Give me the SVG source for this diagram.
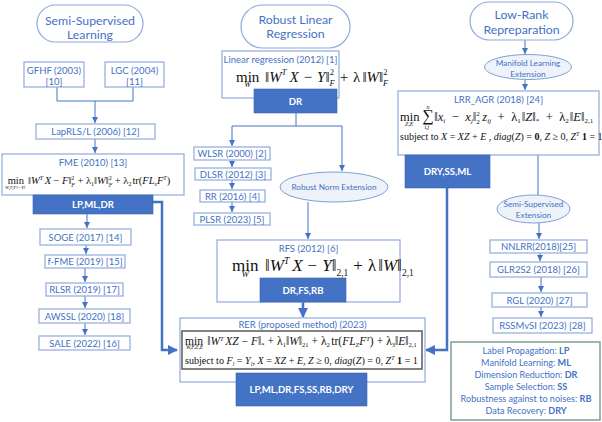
<svg xmlns="http://www.w3.org/2000/svg" width="602" height="422" viewBox="0 0 602 422">
<defs>
<style>
.box{fill:#fff;stroke:#8FAADC;stroke-width:1.2}
.st{fill:#fff;stroke:#8FAADC;stroke-width:1.2}
.el{fill:#EEF3FA;stroke:#7F9FD6;stroke-width:1}
.blue{fill:#4472C4;stroke:#3A64B0;stroke-width:0.6}
.t{font-family:Lato,"Liberation Sans",sans-serif;fill:#4472C4;font-size:9.5px;text-anchor:middle}
.tl{font-family:Lato,"Liberation Sans",sans-serif;fill:#4472C4;font-size:9.1px;text-anchor:middle}
.ts{font-family:Lato,"Liberation Sans",sans-serif;fill:#4472C4;font-size:12.3px;text-anchor:middle}
.te{font-family:Lato,"Liberation Sans",sans-serif;fill:#4472C4;font-size:8.2px;text-anchor:middle}
.bt{font-family:Lato,"Liberation Sans",sans-serif;fill:#fff;font-weight:bold;font-size:9.6px;text-anchor:middle}
.m{font-family:"Liberation Serif","Times New Roman",serif;fill:#111}
.i{font-style:italic}
.b{font-weight:bold}
.thin{stroke:#4472C4;stroke-width:1;fill:none}
.thick{stroke:#4472C4;stroke-width:2.5;fill:none}
</style>
<marker id="a" markerUnits="userSpaceOnUse" markerWidth="6" markerHeight="6" refX="6" refY="3" orient="auto"><path d="M0,0L6,3L0,6z" fill="#4472C4"/></marker>
<marker id="A" markerUnits="userSpaceOnUse" markerWidth="10" markerHeight="10" refX="9" refY="5" orient="auto"><path d="M0,0L10,5L0,10z" fill="#4472C4"/></marker>
</defs>
<rect width="602" height="422" fill="#fff"/>

<g id="connectors">
<path class="thin" d="M57,87V101H133V87M95,101V123" marker-end="url(#a)"/>
<path class="thin" d="M95,139V153" marker-end="url(#a)"/>
<path class="thin" d="M87,214V228" marker-end="url(#a)"/>
<path class="thin" d="M86,245V254" marker-end="url(#a)"/>
<path class="thin" d="M85,268V282" marker-end="url(#a)"/>
<path class="thin" d="M85,296V308" marker-end="url(#a)"/>
<path class="thin" d="M85,323V335" marker-end="url(#a)"/>
<path class="thick" d="M153,202H162V350H177" marker-end="url(#A)"/>
<path class="thin" d="M296,113V126M232,126H342"/>
<path class="thin" d="M232,126V146" marker-end="url(#a)"/>
<path class="thin" d="M342,126V171" marker-end="url(#a)"/>
<path class="thin" d="M232,160V167" marker-end="url(#a)"/>
<path class="thin" d="M232,180V189" marker-end="url(#a)"/>
<path class="thin" d="M232,202V212" marker-end="url(#a)"/>
<path class="thin" d="M308,202V239" marker-end="url(#a)"/>
<path class="thick" d="M303,302V317" marker-end="url(#A)"/>
<path class="thick" d="M447,188V350H426" marker-end="url(#A)"/>
<path class="thin" d="M525,40V54" marker-end="url(#a)"/>
<path class="thin" d="M525,80V90" marker-end="url(#a)"/>
<path class="thin" d="M538,155V195"/>
<path class="thin" d="M539,223V239" marker-end="url(#a)"/>
<path class="thin" d="M540,253V261" marker-end="url(#a)"/>
<path class="thin" d="M541,277V292" marker-end="url(#a)"/>
<path class="thin" d="M541,307V317" marker-end="url(#a)"/>
</g>

<g id="semi-supervised-learning">
<rect class="st" x="37" y="5" width="106" height="37" rx="18.5"/>
<text class="ts" x="90" y="24.5">Semi-Supervised</text>
<text class="ts" x="90" y="38.5">Learning</text>
</g>
<g id="gfhf">
<rect class="box" x="24" y="62" width="60" height="25"/>
<text class="t" x="54" y="73.5">GFHF (2003)</text>
<text class="t" x="54" y="84.5">[10]</text>
</g>
<g id="lgc">
<rect class="box" x="105" y="62" width="59" height="25"/>
<text class="t" x="134.5" y="73.5">LGC (2004)</text>
<text class="t" x="134.5" y="84.5">[11]</text>
</g>
<g id="laprls">
<rect class="box" x="36" y="124" width="119" height="15"/>
<text class="t" x="95.5" y="135">LapRLS/L (2006) [12]</text>
</g>
<g id="fme">
<rect class="box" x="2" y="154" width="182" height="41"/>
<text class="t" x="93" y="166">FME (2010) [13]</text>
<text class="m" x="5" y="184" font-size="10.5">min<tspan class="i" font-size="5" dx="-19" dy="5">W,F,F<tspan font-size="4">l</tspan>=Y<tspan font-size="4">l</tspan></tspan><tspan dx="3" dy="-5">‖</tspan><tspan class="i">W</tspan><tspan class="i" font-size="6" dy="-4">T</tspan><tspan class="i" dy="4" dx="1.5">X</tspan><tspan dx="2.5">−</tspan><tspan class="i" dx="2.5">F</tspan>‖<tspan font-size="6" dy="-4">2</tspan><tspan class="i" font-size="6" dx="-3" dy="7">F</tspan><tspan dx="2.5" dy="-3">+</tspan><tspan dx="2.5">λ</tspan><tspan font-size="6" dy="2">1</tspan><tspan dy="-2">‖</tspan><tspan class="i">W</tspan>‖<tspan font-size="6" dy="-4">2</tspan><tspan class="i" font-size="6" dx="-3" dy="7">F</tspan><tspan dx="2.5" dy="-3">+</tspan><tspan dx="2.5">λ</tspan><tspan font-size="6" dy="2">2</tspan><tspan dy="-2" dx="1">tr(</tspan><tspan class="i">FL</tspan><tspan class="i" font-size="6" dy="2">s</tspan><tspan class="i" dy="-2">F</tspan><tspan class="i" font-size="6" dy="-4">T</tspan><tspan dy="4">)</tspan></text>
</g>
<g id="lp-ml-dr">
<rect class="blue" x="33" y="195" width="120" height="19"/>
<text class="bt" x="93" y="208">LP,ML,DR</text>
</g>
<g id="soge">
<rect class="box" x="40" y="229" width="91" height="16"/>
<text class="t" x="85.5" y="240.5">SOGE (2017) [14]</text>
</g>
<g id="f-fme">
<rect class="box" x="45" y="255" width="80" height="13"/>
<text class="t" x="85" y="265">f-FME (2019) [15]</text>
</g>
<g id="rlsr">
<rect class="box" x="46" y="283" width="77" height="13"/>
<text class="t" x="84.5" y="293">RLSR (2019) [17]</text>
</g>
<g id="awssl">
<rect class="box" x="39" y="309" width="91" height="14"/>
<text class="t" x="84.5" y="319.5">AWSSL (2020) [18]</text>
</g>
<g id="sale">
<rect class="box" x="39" y="336" width="91" height="14"/>
<text class="t" x="84.5" y="346.5">SALE (2022) [16]</text>
</g>

<g id="robust-linear-regression">
<rect class="st" x="241" y="5" width="109" height="43" rx="21.5"/>
<text class="ts" x="295.5" y="23.5">Robust Linear</text>
<text class="ts" x="295.5" y="38">Regression</text>
</g>
<g id="linear-regression">
<rect class="box" x="222" y="51" width="117" height="47"/>
<text class="t" x="280.5" y="63">Linear regression (2012) [1]</text>
<text class="m" x="236" y="82" font-size="15">min<tspan class="i" font-size="8" dx="-15" dy="5">W</tspan><tspan dx="14" dy="-5">‖</tspan><tspan class="i">W</tspan><tspan class="i" font-size="8.5" dy="-7">T</tspan><tspan class="i" dx="3" dy="7">X</tspan><tspan dx="5">−</tspan><tspan class="i" dx="5">Y</tspan>‖<tspan font-size="8.5" dy="-7">2</tspan><tspan class="i" font-size="8.5" dx="-4.5" dy="11">F</tspan><tspan dx="5" dy="-4">+</tspan><tspan dx="5">λ</tspan><tspan dx="2">‖</tspan><tspan class="i">W</tspan>‖<tspan font-size="8.5" dy="-7">2</tspan><tspan class="i" font-size="8.5" dx="-4.5" dy="11">F</tspan></text>
</g>
<g id="dr">
<rect class="blue" x="254" y="89" width="83" height="24"/>
<text class="bt" x="295.5" y="104.5">DR</text>
</g>
<g id="wlsr">
<rect class="box" x="194" y="147" width="76" height="13"/>
<text class="t" x="232" y="157">WLSR (2000) [2]</text>
</g>
<g id="dlsr">
<rect class="box" x="195" y="168" width="76" height="12"/>
<text class="t" x="233" y="177.5">DLSR (2012) [3]</text>
</g>
<g id="rr">
<rect class="box" x="200" y="190" width="65" height="12"/>
<text class="t" x="232.5" y="199.5">RR (2016) [4]</text>
</g>
<g id="plsr">
<rect class="box" x="194" y="213" width="76" height="12"/>
<text class="t" x="232" y="222.5">PLSR (2023) [5]</text>
</g>
<g id="robust-norm-extension">
<ellipse class="el" cx="334" cy="187" rx="54" ry="15"/>
<text class="te" x="334" y="190" font-size="8.8">Robust Norm Extension</text>
</g>
<g id="rfs">
<rect class="box" x="217" y="240" width="183" height="62"/>
<text class="t" x="308.5" y="251.5">RFS (2012) [6]</text>
<text class="m" x="232" y="271" font-size="17">min<tspan class="i" font-size="9" dx="-17" dy="6">W</tspan><tspan dx="16" dy="-6">‖</tspan><tspan class="i">W</tspan><tspan class="i" font-size="9.5" dy="-7">T</tspan><tspan class="i" dy="7" dx="3">X</tspan><tspan dx="5">−</tspan><tspan class="i" dx="5">Y</tspan>‖<tspan font-size="9.5" dy="5">2,1</tspan><tspan dx="5" dy="-5">+</tspan><tspan dx="5">λ</tspan><tspan dx="2">‖</tspan><tspan class="i">W</tspan>‖<tspan font-size="9.5" dy="5">2,1</tspan></text>
</g>
<g id="dr-fs-rb">
<rect class="blue" x="260" y="278" width="86" height="24"/>
<text class="bt" x="303" y="293.5">DR,FS,RB</text>
</g>
<g id="rer">
<rect class="box" x="180" y="318" width="245" height="64"/>
<text class="t" x="302.5" y="328">RER (proposed method) (2023)</text>
<rect x="182" y="331" width="240" height="38" fill="#fff" stroke="#595959" stroke-width="1.5"/>
<text class="m" x="185" y="345" font-size="11.5">min<tspan class="i" font-size="5.5" dx="-17" dy="4">W,F,Z,E</tspan><tspan dx="4" dy="-4">‖</tspan><tspan class="i">W</tspan><tspan class="i" font-size="6.5" dy="-4">T</tspan><tspan class="i" dy="4" dx="1.5">XZ</tspan><tspan dx="3">−</tspan><tspan class="i" dx="3">F</tspan>‖<tspan font-size="6.5" dy="2">*</tspan><tspan dx="3" dy="-2">+</tspan><tspan dx="3">λ</tspan><tspan font-size="6.5" dy="2">1</tspan><tspan dy="-2">‖</tspan><tspan class="i">W</tspan>‖<tspan font-size="6.5" dy="2">21</tspan><tspan dx="3" dy="-2">+</tspan><tspan dx="3">λ</tspan><tspan font-size="6.5" dy="2">2</tspan><tspan dx="1.5" dy="-2">tr(</tspan><tspan class="i">FL</tspan><tspan class="i" font-size="6.5" dy="2">Z</tspan><tspan class="i" dy="-2">F</tspan><tspan class="i" font-size="6.5" dy="-4">T</tspan><tspan dy="4">)</tspan><tspan dx="3">+</tspan><tspan dx="3">λ</tspan><tspan font-size="6.5" dy="2">3</tspan><tspan dy="-2">‖</tspan><tspan class="i">E</tspan>‖<tspan font-size="6.5" dy="2">2,1</tspan></text>
<text class="m" x="185" y="364" font-size="10.1">subject to <tspan class="i">F</tspan><tspan class="i" font-size="6" dy="2">l</tspan><tspan dy="-2"> = </tspan><tspan class="i">Y</tspan><tspan class="i" font-size="6" dy="2">l</tspan><tspan dy="-2">, </tspan><tspan class="i">X</tspan> = <tspan class="i">XZ</tspan> + <tspan class="i">E</tspan>, <tspan class="i">Z</tspan> ≥ 0, <tspan class="i">diag</tspan>(<tspan class="i">Z</tspan>) = 0, <tspan class="i">Z</tspan><tspan class="i" font-size="6" dy="-4">T</tspan><tspan class="b" dy="4"> 1</tspan> = 1</text>
</g>
<g id="final">
<rect class="blue" x="236" y="373" width="131" height="33"/>
<text class="bt" x="301.5" y="393">LP,ML,DR,FS,SS,RB,DRY</text>
</g>

<g id="low-rank">
<rect class="st" x="470" y="2" width="103" height="38" rx="19"/>
<text class="ts" x="521.5" y="18.5">Low-Rank</text>
<text class="ts" x="521.5" y="33.5">Repreparation</text>
</g>
<g id="manifold-learning-extension">
<ellipse class="el" cx="528" cy="67" rx="43.5" ry="12.5"/>
<text class="te" x="528" y="66">Manifold Learning</text>
<text class="te" x="528" y="76.5">Extension</text>
</g>
<g id="lrr-agr">
<rect class="box" x="398" y="91" width="201" height="64"/>
<text class="t" x="498.5" y="103">LRR_AGR (2018) [24]</text>
<text class="m" x="400" y="121" font-size="12.5">min<tspan class="i" font-size="6" dx="-14.5" dy="5">Z,E</tspan><tspan font-size="16" dx="9" dy="-5">∑</tspan><tspan class="i" font-size="6" dx="-7.5" dy="-12">n</tspan><tspan class="i" font-size="6" dx="-5" dy="20">i,j</tspan><tspan dx="5" dy="-8">‖</tspan><tspan class="i">x</tspan><tspan class="i" font-size="7" dy="2">i</tspan><tspan dx="6.5" dy="-2">−</tspan><tspan class="i" dx="6.5">x</tspan><tspan class="i" font-size="7" dy="2">j</tspan><tspan dy="-2">‖</tspan><tspan font-size="7" dy="-5">2</tspan><tspan font-size="7" dx="-3.5" dy="8">2</tspan><tspan class="i" dx="2.5" dy="-3">z</tspan><tspan class="i" font-size="7" dy="2">ij</tspan><tspan dx="6.5" dy="-2">+</tspan><tspan dx="6.5">λ</tspan><tspan font-size="7" dy="2">1</tspan><tspan dx="1" dy="-2">‖</tspan><tspan class="i">Z</tspan>‖<tspan font-size="7" dy="2">*</tspan><tspan dx="6.5" dy="-2">+</tspan><tspan dx="6.5">λ</tspan><tspan font-size="7" dy="2">2</tspan><tspan dx="1" dy="-2">‖</tspan><tspan class="i">E</tspan>‖<tspan font-size="7" dy="2">2,1</tspan></text>
<text class="m" x="400" y="140" font-size="10">subject to <tspan class="i">X</tspan> = <tspan class="i">XZ</tspan> + <tspan class="i">E</tspan> , <tspan class="i">diag</tspan>(<tspan class="i">Z</tspan>) = <tspan class="b">0</tspan>, <tspan class="i">Z</tspan> ≥ 0, <tspan class="i">Z</tspan><tspan class="i" font-size="6" dy="-4">T</tspan><tspan class="b" dy="4"> 1</tspan> = 1</text>
</g>
<g id="dry-ss-ml">
<rect class="blue" x="405" y="155" width="85" height="33"/>
<text class="bt" x="447.5" y="174.5">DRY,SS,ML</text>
</g>
<g id="semi-supervised-extension">
<ellipse class="el" cx="533.5" cy="209" rx="36.5" ry="14"/>
<text class="te" x="533.5" y="207">Semi-Supervised</text>
<text class="te" x="533.5" y="218">Extension</text>
</g>
<g id="nnlrr">
<rect class="box" x="490" y="240" width="97" height="13"/>
<text class="t" x="538.5" y="250">NNLRR(2018)[25]</text>
</g>
<g id="glr2s2">
<rect class="box" x="490" y="262" width="97" height="15"/>
<text class="t" x="538.5" y="273">GLR2S2 (2018) [26]</text>
</g>
<g id="rgl">
<rect class="box" x="492" y="293" width="95" height="14"/>
<text class="t" x="539.5" y="303.5">RGL (2020) [27]</text>
</g>
<g id="rssmvsi">
<rect class="box" x="493" y="318" width="99" height="15"/>
<text class="t" x="542.5" y="329">RSSMvSI (2023) [28]</text>
</g>
<g id="legend">
<rect x="451" y="342" width="149" height="78" fill="#fff" stroke="#7F9F93" stroke-width="1.5"/>
<text class="tl" x="526" y="353.5">Label Propagation: <tspan class="b">LP</tspan></text>
<text class="tl" x="526" y="365.5">Manifold Learning: <tspan class="b">ML</tspan></text>
<text class="tl" x="526" y="377.5">Dimension Reduction: <tspan class="b">DR</tspan></text>
<text class="tl" x="526" y="389.5">Sample Selection: <tspan class="b">SS</tspan></text>
<text class="tl" x="526" y="401.5">Robustness against to noises: <tspan class="b">RB</tspan></text>
<text class="tl" x="526" y="414">Data Recovery: <tspan class="b">DRY</tspan></text>
</g>
</svg>
